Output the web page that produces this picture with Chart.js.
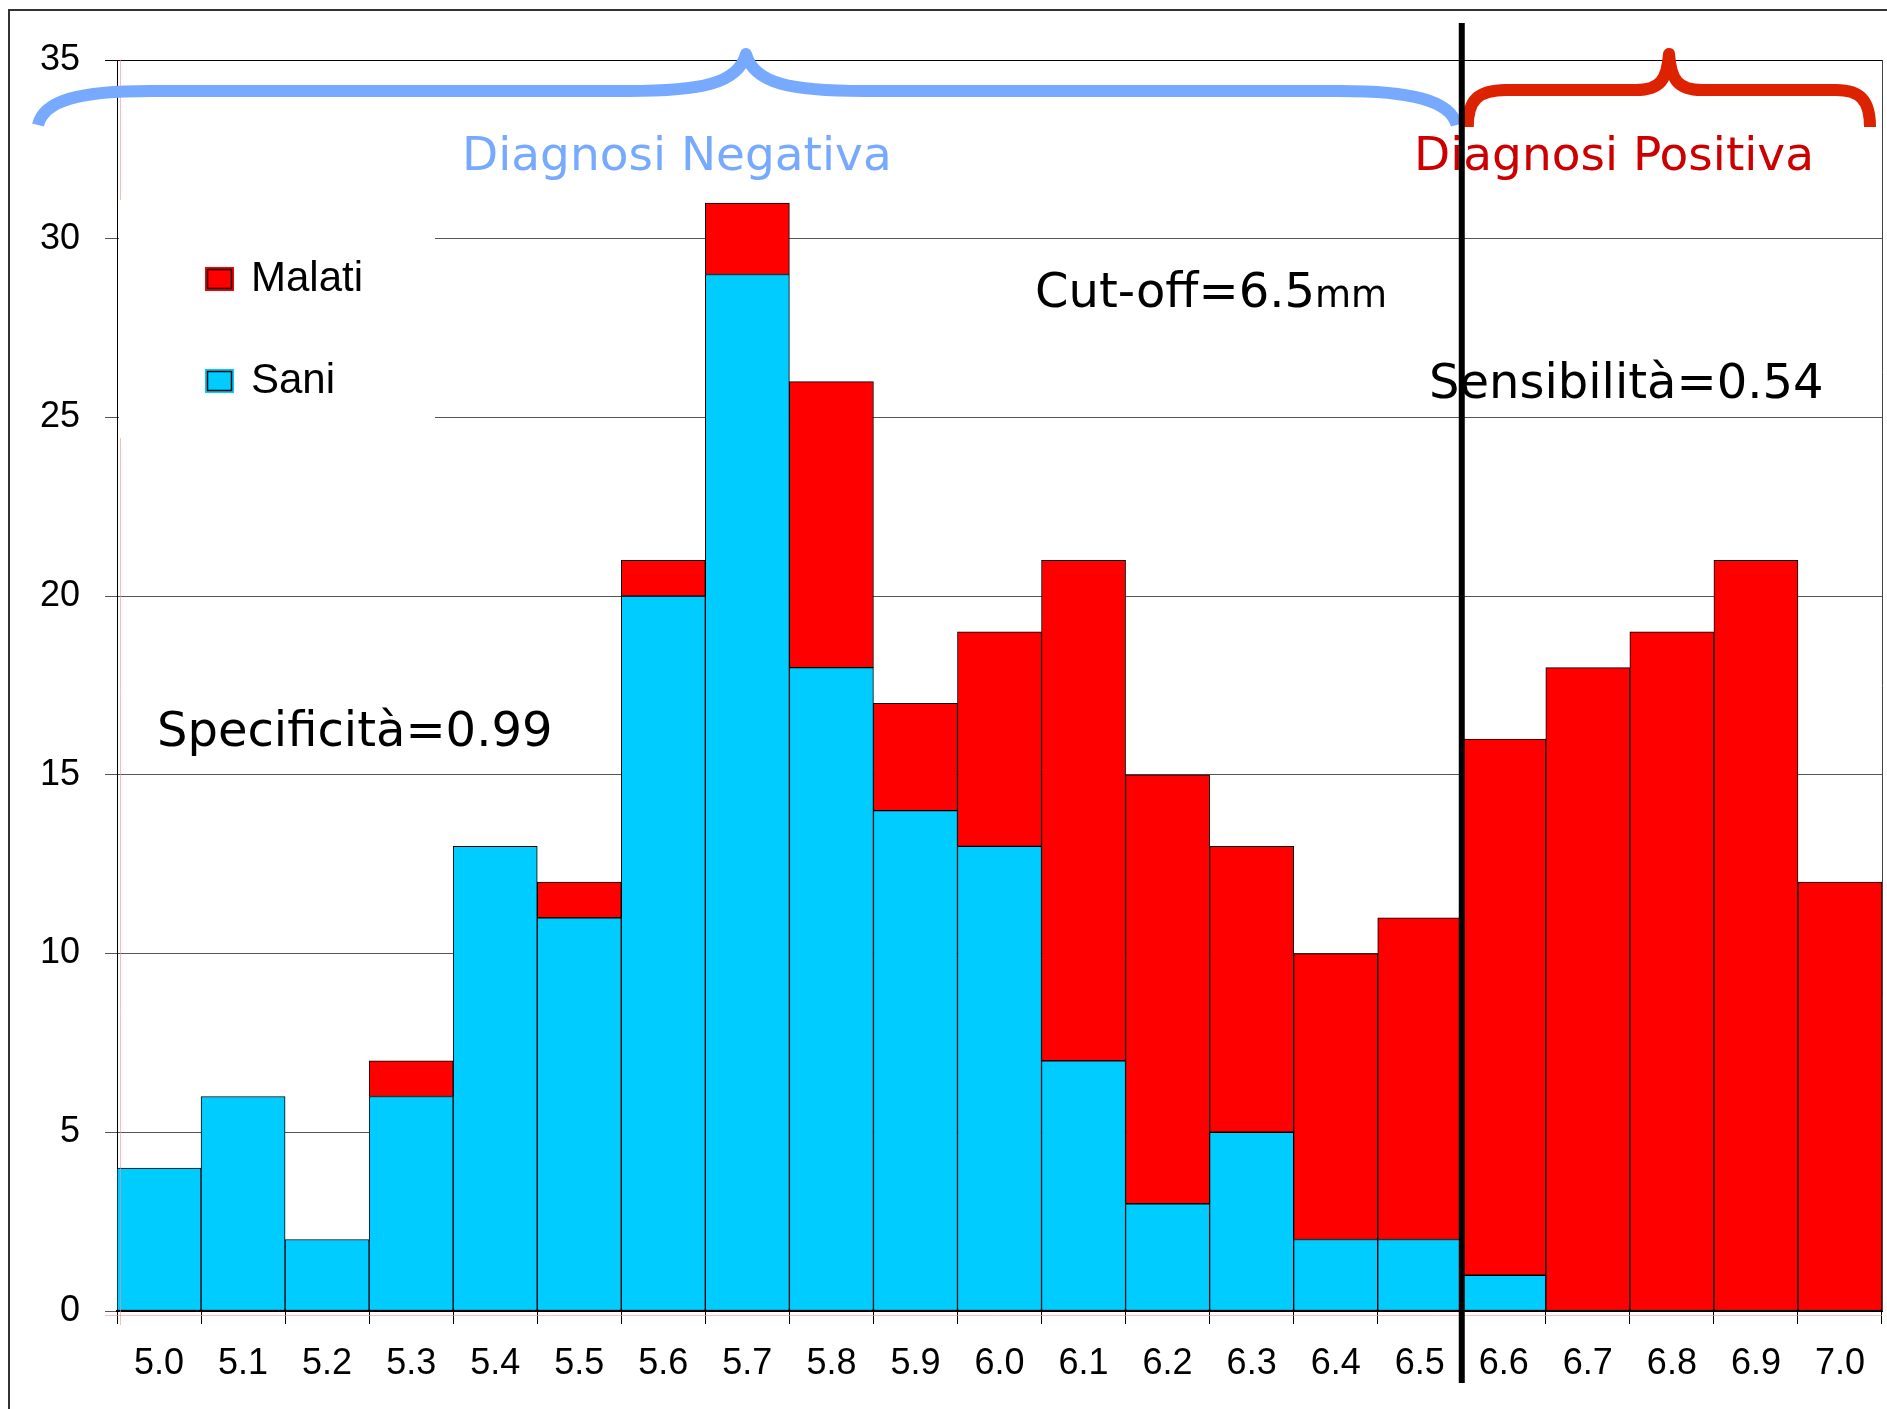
<!DOCTYPE html>
<html>
<head>
<meta charset="utf-8">
<script src="https://cdn.jsdelivr.net/npm/chart.js@4/dist/chart.umd.min.js"></script>
<style>
    body { margin: 0; background: #fff; }
    #chart { display: block; }
</style>
</head>
<body>
<canvas id="chart" width="1887" height="1409"></canvas>
<script>
// Diametro (mm) e numero di soggetti per classe
const categories = ["5.0", "5.1", "5.2", "5.3", "5.4", "5.5", "5.6", "5.7", "5.8", "5.9", "6.0",
                    "6.1", "6.2", "6.3", "6.4", "6.5", "6.6", "6.7", "6.8", "6.9", "7.0"];
const sani   = [4, 6, 2, 6, 13, 11, 20, 29, 18, 14, 13, 7, 3, 5, 2, 2, 1, 0, 0, 0, 0];
const malati = [0, 0, 0, 1, 0, 1, 1, 2, 8, 3, 6, 14, 12, 8, 8, 9, 15, 18, 19, 21, 12];
const yTicks = [0, 5, 10, 15, 20, 25, 30, 35];
const cutoffIndex = 15; // ultima classe "negativa" (6.5)

const SANI_COLOR = "#00CCFF";
const MALATI_COLOR = "#FF0000";

document.addEventListener("DOMContentLoaded", function () {
    const ctx = document.getElementById("chart").getContext("2d");

    // disegna una parentesi graffa orizzontale
    function brace(c, pts, color) {
        c.save();
        c.strokeStyle = color;
        c.lineWidth = 12;
        c.lineCap = "butt";
        c.lineJoin = "round";
        c.beginPath();
        c.moveTo(pts[0][0], pts[0][1]);
        for (let i = 1; i < pts.length; i++) {
            const p = pts[i];
            if (p.length === 2) c.lineTo(p[0], p[1]);
            else c.bezierCurveTo(p[0], p[1], p[2], p[3], p[4], p[5]);
        }
        c.stroke();
        c.restore();
    }

    const annotations = {
        id: "annotations",
        beforeDraw(chart) {
            const c = chart.ctx;
            c.save();
            c.fillStyle = "#fff";
            c.fillRect(0, 0, chart.width, chart.height);
            c.restore();
        },
        afterDraw(chart) {
            const c = chart.ctx;
            const x = chart.scales.x;
            const area = chart.chartArea;
            const cutX = (x.getPixelForTick(cutoffIndex) + x.getPixelForTick(cutoffIndex + 1)) / 2;

            c.save();
            // cornice esterna
            c.strokeStyle = "#333";
            c.lineWidth = 2;
            c.beginPath();
            c.moveTo(9, chart.height);
            c.lineTo(9, 10);
            c.lineTo(chart.width, 10);
            c.stroke();

            // bordo destro area grafico
            c.strokeStyle = "#444";
            c.lineWidth = 1;
            c.beginPath();
            c.moveTo(area.right + 0.5, area.top);
            c.lineTo(area.right + 0.5, area.bottom);
            c.stroke();

            // linee rosa di fondo
            c.strokeStyle = "rgba(255,140,140,0.6)";
            c.beginPath();
            c.moveTo(120.5, area.top);
            c.lineTo(120.5, area.bottom + 14);
            c.moveTo(area.left - 12, area.bottom + 4.5);
            c.lineTo(area.right, area.bottom + 4.5);
            c.stroke();

            // riquadro legenda
            c.fillStyle = "#fff";
            c.fillRect(area.left + 2, 200, 316, 238);
            const legend = [["Malati", MALATI_COLOR, 279], ["Sani", SANI_COLOR, 381]];
            legend.forEach(([label, color, cy]) => {
                c.fillStyle = color;
                c.fillRect(205, cy - 12, 29, 24);
                c.strokeStyle = "#000";
                c.lineWidth = 1.5;
                c.strokeRect(207.5, cy - 9.5, 24, 19);
                c.fillStyle = "#000";
                c.font = "42px 'Liberation Sans', Arial, sans-serif";
                c.textBaseline = "middle";
                c.textAlign = "left";
                c.fillText(label, 251, cy);
            });

            // parentesi graffe
            brace(c, [[38, 125], [44, 100, 80, 91, 150, 91], [628, 91],
                      [700, 91, 738, 84, 746, 54], [754, 84, 792, 91, 864, 91], [1340, 91],
                      [1410, 91, 1450, 100, cutX - 5, 125]], "#77AAFF");
            brace(c, [[cutX + 6, 127], [cutX + 6, 100, 1478, 90, 1506, 90], [1636, 90],
                      [1660, 90, 1667, 80, 1669, 54], [1671, 80, 1678, 90, 1702, 90], [1836, 90],
                      [1860, 90, 1870, 100, 1870, 127]], "#DD2200");

            // testi
            c.textBaseline = "alphabetic";
            c.textAlign = "left";
            c.font = "47px 'DejaVu Sans', Verdana, sans-serif";
            c.fillStyle = "#77AAFF";
            c.fillText("Diagnosi Negativa", 462, 170);
            c.fillStyle = "#CC0000";
            c.fillText("Diagnosi Positiva", 1414, 170);

            c.fillStyle = "#000";
            c.font = "48px 'DejaVu Sans', Verdana, sans-serif";
            c.fillText("Cut-off=6.5", 1035, 307);
            const w = c.measureText("Cut-off=6.5").width;
            c.font = "37px 'DejaVu Sans', Verdana, sans-serif";
            c.fillText("mm", 1035 + w, 307);
            c.font = "48px 'DejaVu Sans', Verdana, sans-serif";
            c.fillText("Sensibilità=0.54", 1429, 398);
            c.fillText("Specificità=0.99", 157, 746);

            // linea di cut-off
            c.strokeStyle = "#000";
            c.lineWidth = 6;
            c.beginPath();
            c.moveTo(cutX, 23);
            c.lineTo(cutX, 1383);
            c.stroke();
            c.restore();
        }
    };

    new Chart(ctx, {
        type: "bar",
        data: {
            labels: categories,
            datasets: [
                {
                    label: "Sani",
                    data: sani,
                    backgroundColor: SANI_COLOR,
                    borderColor: "#000",
                    borderWidth: 1,
                    borderSkipped: false,
                    barPercentage: 1,
                    categoryPercentage: 1
                },
                {
                    label: "Malati",
                    data: malati,
                    backgroundColor: MALATI_COLOR,
                    borderColor: "#000",
                    borderWidth: 1,
                    borderSkipped: false,
                    barPercentage: 1,
                    categoryPercentage: 1
                }
            ]
        },
        options: {
            responsive: false,
            animation: false,
            layout: { padding: { top: 60, right: 5, left: 0, bottom: 0 } },
            plugins: {
                legend: { display: false },
                tooltip: { enabled: false }
            },
            scales: {
                x: {
                    stacked: true,
                    offset: true,
                    afterFit: (scale) => { scale.height = 98; },
                    grid: {
                        offset: true,
                        drawOnChartArea: false,
                        drawTicks: true,
                        tickLength: 13,
                        color: "#000"
                    },
                    border: { color: "#000", width: 2 },
                    ticks: {
                        color: "#000",
                        font: { family: "'Liberation Sans', Arial, sans-serif", size: 36 },
                        padding: 18,
                        maxRotation: 0,
                        autoSkip: false
                    }
                },
                y: {
                    stacked: true,
                    min: yTicks[0],
                    max: yTicks[yTicks.length - 1],
                    afterFit: (scale) => { scale.width = 117; },
                    afterBuildTicks: (scale) => { scale.ticks = yTicks.map(v => ({ value: v })); },
                    grid: {
                        color: (c) => (c.tick && c.tick.value === 35 ? "#000" : "#555"),
                        drawTicks: true,
                        tickLength: 12
                    },
                    border: { color: "#000", width: 1 },
                    ticks: {
                        color: "#000",
                        font: { family: "'Liberation Sans', Arial, sans-serif", size: 36 },
                        padding: 25
                    }
                }
            }
        },
        plugins: [annotations]
    });
});
</script>
</body>
</html>
